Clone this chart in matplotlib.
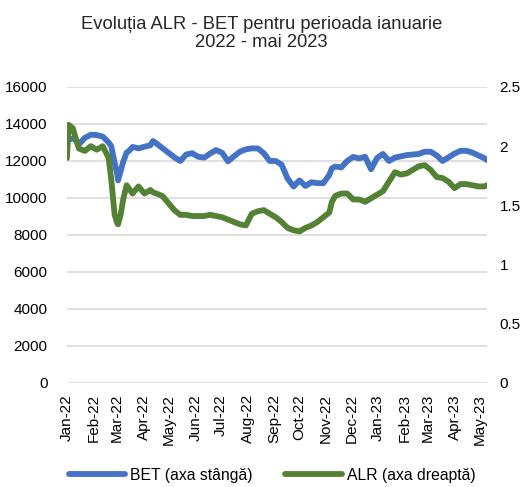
import matplotlib
matplotlib.use("Agg")
import matplotlib.pyplot as plt
import matplotlib.dates as mdates
import pandas as pd

plt.rcParams['font.family'] = ['Liberation Sans', 'DejaVu Sans']

# values (weekly, plus a few extra around sharp moves)
dates = ["2022-01-03", "2022-01-05", "2022-01-10", "2022-01-14", "2022-01-17",
         "2022-01-24", "2022-01-31", "2022-02-07", "2022-02-14", "2022-02-21",
         "2022-02-24", "2022-02-28", "2022-03-03", "2022-03-04", "2022-03-07",
         "2022-03-10", "2022-03-14", "2022-03-17", "2022-03-21", "2022-03-28",
         "2022-04-04", "2022-04-11", "2022-04-14", "2022-04-18", "2022-04-25",
         "2022-05-02", "2022-05-09", "2022-05-16", "2022-05-23", "2022-05-30",
         "2022-06-06", "2022-06-13", "2022-06-20", "2022-06-27", "2022-07-04",
         "2022-07-11", "2022-07-18", "2022-07-25", "2022-08-01", "2022-08-08",
         "2022-08-15", "2022-08-22", "2022-08-29", "2022-09-05", "2022-09-12",
         "2022-09-19", "2022-09-26", "2022-10-03", "2022-10-10", "2022-10-17",
         "2022-10-24", "2022-10-31", "2022-11-07", "2022-11-10", "2022-11-14",
         "2022-11-21", "2022-11-28", "2022-12-05", "2022-12-12", "2022-12-19",
         "2022-12-26", "2023-01-02", "2023-01-09", "2023-01-16", "2023-01-23",
         "2023-01-30", "2023-02-06", "2023-02-13", "2023-02-20", "2023-02-27",
         "2023-03-06", "2023-03-13", "2023-03-20", "2023-03-27", "2023-04-03",
         "2023-04-10", "2023-04-17", "2023-04-24", "2023-05-01", "2023-05-08",
         "2023-05-11"]

bet = [13000, 13150, 13220, 13100, 12900,
       13250, 13420, 13400, 13320, 13000,
       12800, 11900, 11300, 10950, 11450,
       11950, 12450, 12550, 12760, 12680,
       12770, 12850, 13080, 12950, 12700,
       12450, 12200, 12000, 12350, 12420,
       12230, 12180, 12400, 12590, 12450,
       11980, 12250, 12500, 12630, 12680,
       12680, 12420, 12000, 12000, 11800,
       11050, 10620, 10950, 10650, 10850,
       10800, 10800, 11250, 11600, 11700,
       11650, 12000, 12220, 12140, 12230,
       11550, 12160, 12380, 12000, 12180,
       12250, 12320, 12350, 12380, 12500,
       12500, 12300, 12000, 12200, 12400,
       12550, 12550, 12450, 12300, 12150,
       12050]

alr = [1.90, 2.18, 2.15, 2.05, 1.98,
       1.96, 2.00, 1.97, 2.00, 1.90,
       1.72, 1.42, 1.35, 1.34, 1.42,
       1.55, 1.67, 1.64, 1.60, 1.66,
       1.60, 1.63, 1.61, 1.60, 1.58,
       1.52, 1.46, 1.42, 1.42, 1.41,
       1.41, 1.41, 1.42, 1.41, 1.40,
       1.38, 1.36, 1.34, 1.33, 1.43,
       1.45, 1.46, 1.43, 1.40, 1.36,
       1.31, 1.29, 1.28, 1.31, 1.33,
       1.36, 1.40, 1.44, 1.53, 1.58,
       1.60, 1.60, 1.55, 1.55, 1.53,
       1.56, 1.59, 1.62, 1.70, 1.78,
       1.76, 1.77, 1.80, 1.83, 1.84,
       1.80, 1.74, 1.73, 1.70, 1.645,
       1.68, 1.68, 1.67, 1.66, 1.66,
       1.67]

left_ticks = [0, 2000, 4000, 6000, 8000, 10000, 12000, 14000, 16000]
right_ticks = [0, 0.5, 1, 1.5, 2, 2.5]
right_labels = ["0", "0.5", "1", "1.5", "2", "2.5"]

BLUE = "#4472C4"
GREEN = "#548235"

x = pd.to_datetime(dates)

fig = plt.figure(figsize=(5.23, 4.87), dpi=100)
ax = fig.add_axes([0.128, 0.2136, 0.803, 0.6078])
ax2 = ax.twinx()

l1, = ax.plot(x, bet, color=BLUE, lw=4.2, solid_capstyle='round', label="BET (axa stângă)")
l2, = ax2.plot(x, alr, color=GREEN, lw=4.2, solid_capstyle='round', label="ALR (axa dreaptă)")

ax.set_ylim(0, 16000)
ax.set_yticks(left_ticks)
ax2.set_ylim(0, 2.5)
ax2.set_yticks(right_ticks)
ax2.set_yticklabels(right_labels)

ax.set_xlim(pd.Timestamp("2022-01-03"), pd.Timestamp("2023-05-11"))
month_ticks = pd.date_range("2022-01-01", "2023-05-01", freq="MS") + pd.Timedelta(days=2)
ax.set_xticks(month_ticks)
ax.xaxis.set_major_formatter(mdates.DateFormatter("%b-%y"))
for lab in ax.get_xticklabels():
    lab.set_rotation(90)

ax.grid(axis='y', color='#d9d9d9', lw=1.2)
ax.set_axisbelow(True)
for a in (ax, ax2):
    for s in a.spines.values():
        s.set_visible(False)
ax.tick_params(axis='y', length=0, pad=14, labelsize=11, colors='#000000')
ax.tick_params(axis='x', length=0, pad=8, labelsize=11)
ax2.tick_params(axis='y', length=0, pad=9, labelsize=11)

fig.suptitle("Evoluția ALR - BET pentru perioada ianuarie\n2022 - mai 2023",
             x=0.5, y=0.968, fontsize=13.2, color='#262626', linespacing=1.1)

fig.legend(handles=[l1, l2], loc='center', bbox_to_anchor=(0.52, 0.024), ncol=2,
           frameon=False, fontsize=11.3, handlelength=3.6, columnspacing=2.1,
           handletextpad=0.3, borderpad=0.2)

fig.savefig("out.png", dpi=100)
